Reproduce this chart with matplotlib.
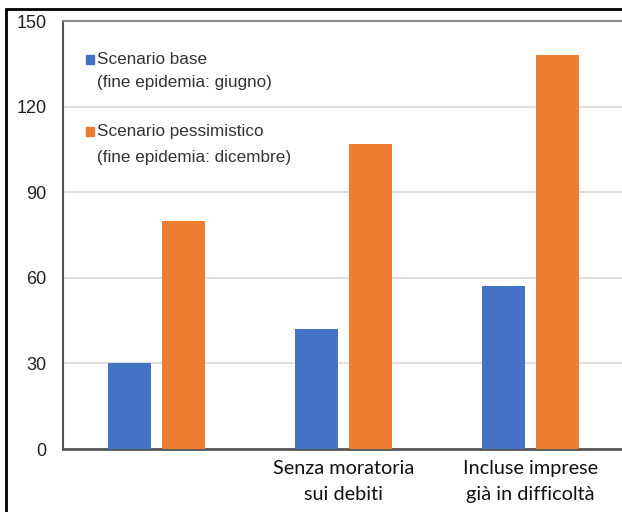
import numpy as np
import matplotlib.pyplot as plt
import matplotlib.patches as patches

categorie = ["", "Senza moratoria\nsui debiti", "Incluse imprese\ngià in difficoltà"]
base = [30, 42, 57]
pessimistico = [80, 107, 138]
yticks = [0, 30, 60, 90, 120, 150]

col_base = '#4472C4'
col_pess = '#ED7D31'

fig = plt.figure(figsize=(6.22, 5.12), dpi=100)
ax = fig.add_axes([63/622, 1-449/512, (624-63)/622, (449-21)/512])

x = np.arange(len(categorie))
w = 0.23
ax.bar(x - 0.145, base, w, color=col_base, zorder=3)
ax.bar(x + 0.145, pessimistico, w, color=col_pess, zorder=3)

ax.set_xlim(-0.5, len(categorie) - 0.5)
ax.set_ylim(0, 150)
ax.set_yticks(yticks)
ax.set_yticklabels([str(v) for v in yticks], fontsize=13, family='Liberation Sans', color='#222222')
ax.set_xticks(x)
ax.set_xticklabels(categorie, fontsize=14.3, family='Lato', color='#111111', linespacing=1.6)
ax.tick_params(axis='both', length=0)
ax.tick_params(axis='y', pad=12)
ax.tick_params(axis='x', pad=8)
ax.grid(axis='y', color='#d9d9d9', linewidth=1.2, zorder=0)

ax.spines['right'].set_visible(False)
ax.spines['top'].set_color('#888888')
ax.spines['top'].set_linewidth(1.5)
ax.spines['left'].set_color('#555555')
ax.spines['left'].set_linewidth(1.5)
ax.spines['bottom'].set_color('#555555')
ax.spines['bottom'].set_linewidth(2)

# legenda manuale
voci = [(0.911, 0.857, col_base, "Scenario base", "(fine epidemia: giugno)"),
        (0.741, 0.682, col_pess, "Scenario pessimistico", "(fine epidemia: dicembre)")]
for y1, y2, c, t1, t2 in voci:
    ax.add_patch(patches.Rectangle((0.041, y1 - 0.0105), 0.0143, 0.021, transform=ax.transAxes,
                                   color=c, zorder=5, clip_on=False))
    ax.text(0.0606, y1, t1, transform=ax.transAxes, fontsize=12.3, family='Liberation Sans',
            color='#333333', va='center')
    ax.text(0.0606, y2, t2, transform=ax.transAxes, fontsize=12.3, family='Liberation Sans',
            color='#333333', va='center')

# cornice esterna
fig.patches.append(patches.Rectangle((6/622, -0.1), 1.2, 1 - 9/512 + 0.1, transform=fig.transFigure,
                                     fill=False, edgecolor='black', linewidth=2))

fig.savefig("out.png", dpi=100)
